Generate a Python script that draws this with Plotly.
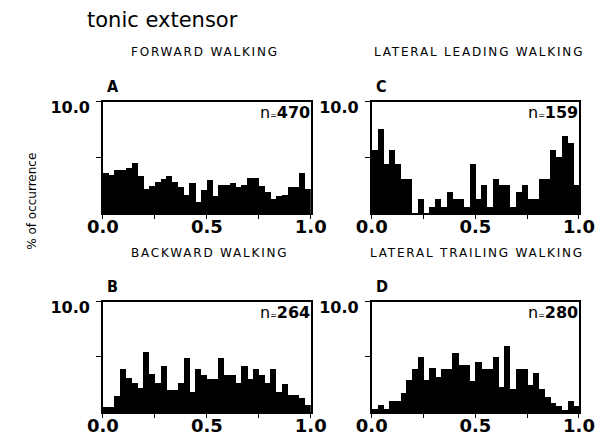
import numpy as np
import plotly.graph_objects as go

W, H = 613, 438

# ---- data (percent of occurrence per phase bin, 36 bins over 0..1) ----
n_bins = 36
forward = [3.6, 3.5, 3.9, 3.9, 4.1, 4.5, 3.4, 2.2, 2.5, 2.8, 3.1, 3.4, 2.8, 2.4, 1.7, 2.7, 1.0, 2.1,
           3.0, 1.6, 2.6, 2.6, 2.7, 2.4, 2.6, 3.2, 3.2, 2.5, 1.9, 1.3, 1.6, 1.7, 2.4, 2.4, 3.6, 2.2]
lateral_leading = [5.66, 7.55, 4.40, 5.66, 4.40, 3.14, 3.14, 0.0, 1.26, 0.0, 0.63, 1.26, 0.63, 1.89,
                   1.26, 1.26, 0.63, 4.40, 1.26, 2.52, 0.63, 3.14, 2.52, 2.52, 0.63, 1.89, 2.52, 1.26,
                   1.26, 3.14, 3.14, 5.66, 5.03, 6.92, 6.29, 2.52]
backward = [0.5, 0.5, 1.5, 3.9, 3.1, 2.7, 2.2, 5.5, 3.5, 2.7, 4.2, 2.0, 2.0, 2.7, 4.9, 1.9, 3.9, 3.4,
            3.0, 3.0, 4.9, 3.4, 3.4, 2.7, 4.2, 3.0, 3.9, 3.4, 2.7, 3.9, 1.9, 2.6, 1.6, 1.6, 1.3, 0.7]
lateral_trailing = [0.3, 0.7, 0.3, 1.0, 1.0, 1.8, 2.9, 3.9, 5.0, 2.9, 4.0, 3.25, 3.9, 3.9, 5.35, 4.3,
                    4.3, 2.85, 4.6, 3.9, 3.9, 5.0, 2.3, 6.0, 2.1, 3.9, 3.9, 2.45, 3.55, 2.15, 1.4,
                    0.85, 0.6, 0.25, 1.0, 0.6]

panel_titles = ["FORWARD WALKING", "LATERAL LEADING WALKING", "BACKWARD WALKING", "LATERAL TRAILING WALKING"]
panel_letters = ["A", "C", "B", "D"]
panel_n = ["470", "159", "264", "280"]
series = [forward, lateral_leading, backward, lateral_trailing]

x_tickvals = [0, 0.25, 0.5, 0.75, 1.0]
x_ticktext = ["<b>0.0</b>", "", "<b>0.5</b>", "", "<b>1.0</b>"]
y_tickvals = [5, 10]
y_ticktext = ["", "<b>10.0</b>"]

centers = (np.arange(n_bins) + 0.5) / n_bins

# ---- layout geometry (pixels) ----
cols = [(91.7, 311.0), (375.3, 594.0)]
rows = [(99.2, 211.5), (300.7, 412.0)]
panel_pos = [(0, 0), (0, 1), (1, 0), (1, 1)]
title_cx = [199.5, 488.5, 204.0, 486.0]
title_cy = [49.0, 49.0, 252.0, 252.0]

def px(x):
    return x / W

def py(y):
    return 1 - y / H

fig = go.Figure()
layout = dict(width=W, height=H, margin=dict(l=0, r=0, t=0, b=0, pad=0), autosize=False,
              paper_bgcolor="white", plot_bgcolor="white", showlegend=False,
              bargap=0, barmode="overlay", font=dict(family="DejaVu Sans", color="black"))
annotations = []

for i, (vals, (r, c)) in enumerate(zip(series, panel_pos)):
    k = "" if i == 0 else str(i + 1)
    x0, x1 = cols[c]
    y0, y1 = rows[r]
    fig.add_trace(go.Bar(x=centers, y=vals, width=1.06 / n_bins,
                         marker=dict(color="black", line=dict(width=0)),
                         xaxis="x" + k, yaxis="y" + k, hoverinfo="skip"))
    layout["xaxis" + k] = dict(domain=[px(x0), px(x1)], anchor="y" + k, range=[0, 1],
                               showline=True, linecolor="black", linewidth=1.7, mirror=True,
                               ticks="outside", ticklen=4, tickwidth=1.4, tickcolor="black",
                               tickvals=x_tickvals, ticktext=x_ticktext, ticklabelstandoff=-8,
                               tickfont=dict(size=18, family="DejaVu Sans"),
                               showgrid=False, zeroline=False, fixedrange=True)
    layout["yaxis" + k] = dict(domain=[py(y1), py(y0)], anchor="x" + k, range=[0, 10],
                               showline=True, linecolor="black", linewidth=1.7, mirror=True,
                               ticks="outside", ticklen=5, tickwidth=1.4, tickcolor="black",
                               tickvals=y_tickvals, ticktext=y_ticktext, ticklabelstandoff=3,
                               ticklabelshift=6,
                               tickfont=dict(size=16, family="DejaVu Sans"),
                               showgrid=False, zeroline=False, fixedrange=True)
    annotations.append(dict(text='<span style="letter-spacing:1.8px">' + panel_titles[i] + "</span>",
                            x=px(title_cx[i]), y=py(title_cy[i]), xref="paper", yref="paper",
                            xanchor="center", yanchor="middle", showarrow=False,
                            font=dict(size=12, family="DejaVu Sans")))
    annotations.append(dict(text="<b>" + panel_letters[i] + "</b>", x=px(x0 + 2), y=py(y0 - 15),
                            xref="paper", yref="paper", xanchor="left", yanchor="middle",
                            showarrow=False,
                            font=dict(size=16, family="Liberation Sans Narrow, DejaVu Sans Condensed, Liberation Sans")))
    annotations.append(dict(text='n<span style="font-size:8px">=</span><b>' + panel_n[i] + "</b>",
                            x=px(x1 + 1), y=py(y0 + 11), xref="paper", yref="paper",
                            xanchor="right", yanchor="middle", showarrow=False,
                            font=dict(size=16, family="DejaVu Sans")))

annotations.append(dict(text="tonic extensor", x=px(73), y=py(17.5), xref="paper", yref="paper",
                        xanchor="left", yanchor="middle", showarrow=False,
                        font=dict(size=21, family="DejaVu Sans")))
annotations.append(dict(text="% of occurrence", x=px(16), y=py(200), xref="paper", yref="paper",
                        xanchor="center", yanchor="middle", showarrow=False, textangle=-90,
                        font=dict(size=12, family="DejaVu Sans")))

layout["annotations"] = annotations
fig.update_layout(**layout)

fig.write_html("out.html",
               config={"displayModeBar": False, "responsive": False},
               post_script="var gd=document.querySelector('.plotly-graph-div');"
                           "document.documentElement.style.margin='0';"
                           "document.body.style.margin='0';"
                           "gd.style.position='fixed';gd.style.left='0px';gd.style.top='0px';")
